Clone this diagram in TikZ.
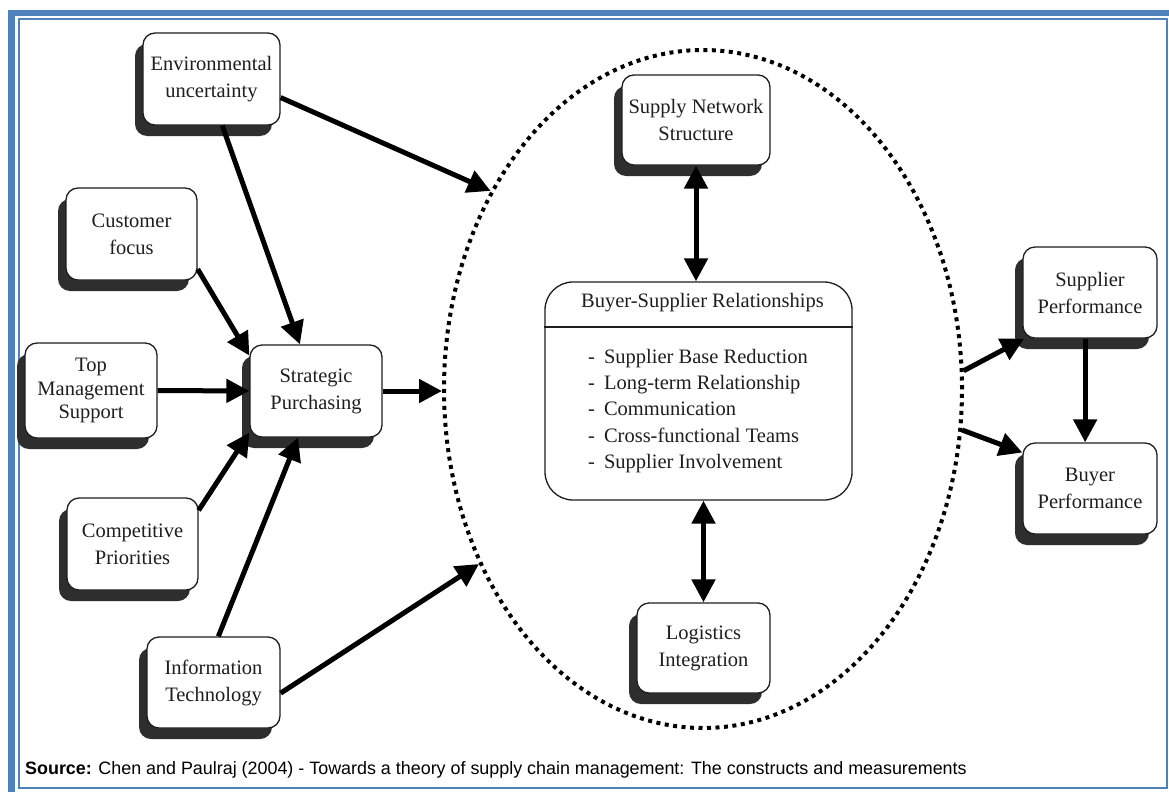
\documentclass[tikz,border=0pt]{standalone}
\usepackage{fontspec}
\setmainfont{Liberation Serif}
\newfontfamily\capfont{Liberation Sans}
\usetikzlibrary{arrows.meta,shapes.geometric,shadows,calc}

\definecolor{frameblue}{RGB}{79,129,189}
\definecolor{ink}{RGB}{30,30,30}

\tikzset{
  box/.style={draw=ink, line width=1.3pt, fill=white, rounded corners=12pt,
    align=center, text=ink, inner sep=2pt,
    font=\fontsize{20.5}{27}\selectfont,
    drop shadow={shadow xshift=-8pt, shadow yshift=-11pt, fill=black!82, opacity=1}},
  link/.style={line width=5pt, -{Triangle[length=23pt,width=23pt]}},
  twoway/.style={line width=5pt, {Triangle[length=23pt,width=23pt]}-{Triangle[length=23pt,width=23pt]}},
  boundary/.style={ellipse, draw=black, line width=4pt, dash pattern=on 4pt off 4.5pt, inner sep=0pt},
}

\begin{document}
\begin{tikzpicture}[x=1pt,y=-1pt]
  \useasboundingbox (0,0) rectangle (1169,792);
  \fill[white] (0,0) rectangle (1169,792);

  % page border: thick band on the left and top, thin inner frame
  \fill[frameblue] (8,10) rectangle (1169,16.5);
  \fill[frameblue] (8,10) rectangle (15,792);
  \draw[frameblue, line width=2pt] (18.5,19.5) rectangle (1167,788);

  % dotted boundary of the relationship constructs
  \node[boundary, minimum width=518pt, minimum height=678pt] (ell) at (703,389) {};

  % antecedents
  \node[box, minimum width=137pt, minimum height=92pt] (env)  at (211.5,79)  {Environmental\\uncertainty};
  \node[box, minimum width=131pt, minimum height=92pt] (cust) at (131.5,234) {Customer\\focus};
  \node[box, minimum width=132pt, minimum height=95pt, font=\fontsize{20.5}{23.5}\selectfont] (top) at (91,390.5) {Top\\Management\\Support};
  \node[box, minimum width=131pt, minimum height=92pt] (comp) at (132.5,544) {Competitive\\Priorities};
  \node[box, minimum width=133pt, minimum height=91pt] (it)   at (213.5,682.5) {Information\\Technology};
  \node[box, minimum width=132pt, minimum height=92pt] (sp)   at (316,391)   {Strategic\\Purchasing};

  % constructs inside the boundary
  \node[box, minimum width=148pt, minimum height=90pt] (sns) at (696,120) {Supply Network\\Structure};
  \node[box, minimum width=133pt, minimum height=90pt] (log) at (703.5,648) {Logistics\\Integration};

  \node[draw=ink, line width=1.3pt, fill=white, rounded corners=28pt,
        minimum width=307pt, minimum height=218pt, inner sep=0pt] (bsr) at (698.5,391) {};
  \draw[ink, line width=1.3pt] (bsr.west |- 0,327) -- (bsr.east |- 0,327);
  \node[text=ink, font=\fontsize{20.5}{24}\selectfont] (bsrtitle) at (702.5,303) {Buyer-Supplier Relationships};
  \node[text=ink, anchor=west, align=left, inner sep=0pt,
        font=\fontsize{20.5}{26.4}\selectfont] (bsrlist) at (588,411)
    {-\hspace{9pt}Supplier Base Reduction\\
     -\hspace{9pt}Long-term Relationship\\
     -\hspace{9pt}Communication\\
     -\hspace{9pt}Cross-functional Teams\\
     -\hspace{9pt}Supplier Involvement};

  % outcomes
  \node[box, minimum width=134pt, minimum height=91pt] (supp) at (1090,292.5) {Supplier\\Performance};
  \node[box, minimum width=134pt, minimum height=91pt] (buy)  at (1090,488.5) {Buyer\\Performance};

  % connectors
  \draw[link] (env.-15)  -- (ell.137.5);
  \draw[link] (env.-77)  -- (sp.109);
  \draw[link] (cust.-28) -- (sp.152);
  \draw[link] (top.east) -- (sp.west);
  \draw[link] (comp.27)  -- (sp.212);
  \draw[link] (it.84)    -- (sp.-111);
  \draw[link] (it.-9)    -- (ell.218);
  \draw[link] (sp.east)  -- (sp.east -| ell.west);

  \draw[twoway] (sns.south) -- (sns.south |- bsr.north);
  \draw[twoway] (log.north |- bsr.south) -- (log.north);

  \draw[link] (ell.4)    -- (supp.215);
  \draw[link] (ell.-9)   -- (buy.152);
  \draw[link] (supp.-96) -- (buy.96);

  % source line
  \node[anchor=west, inner sep=0pt, text=black, font=\capfont\fontsize{17.9}{20}\selectfont] (src) at (25,770)
    {\textbf{Source:} Chen and Paulraj (2004) - Towards a theory of supply chain management: The constructs and measurements};
\end{tikzpicture}
\end{document}
